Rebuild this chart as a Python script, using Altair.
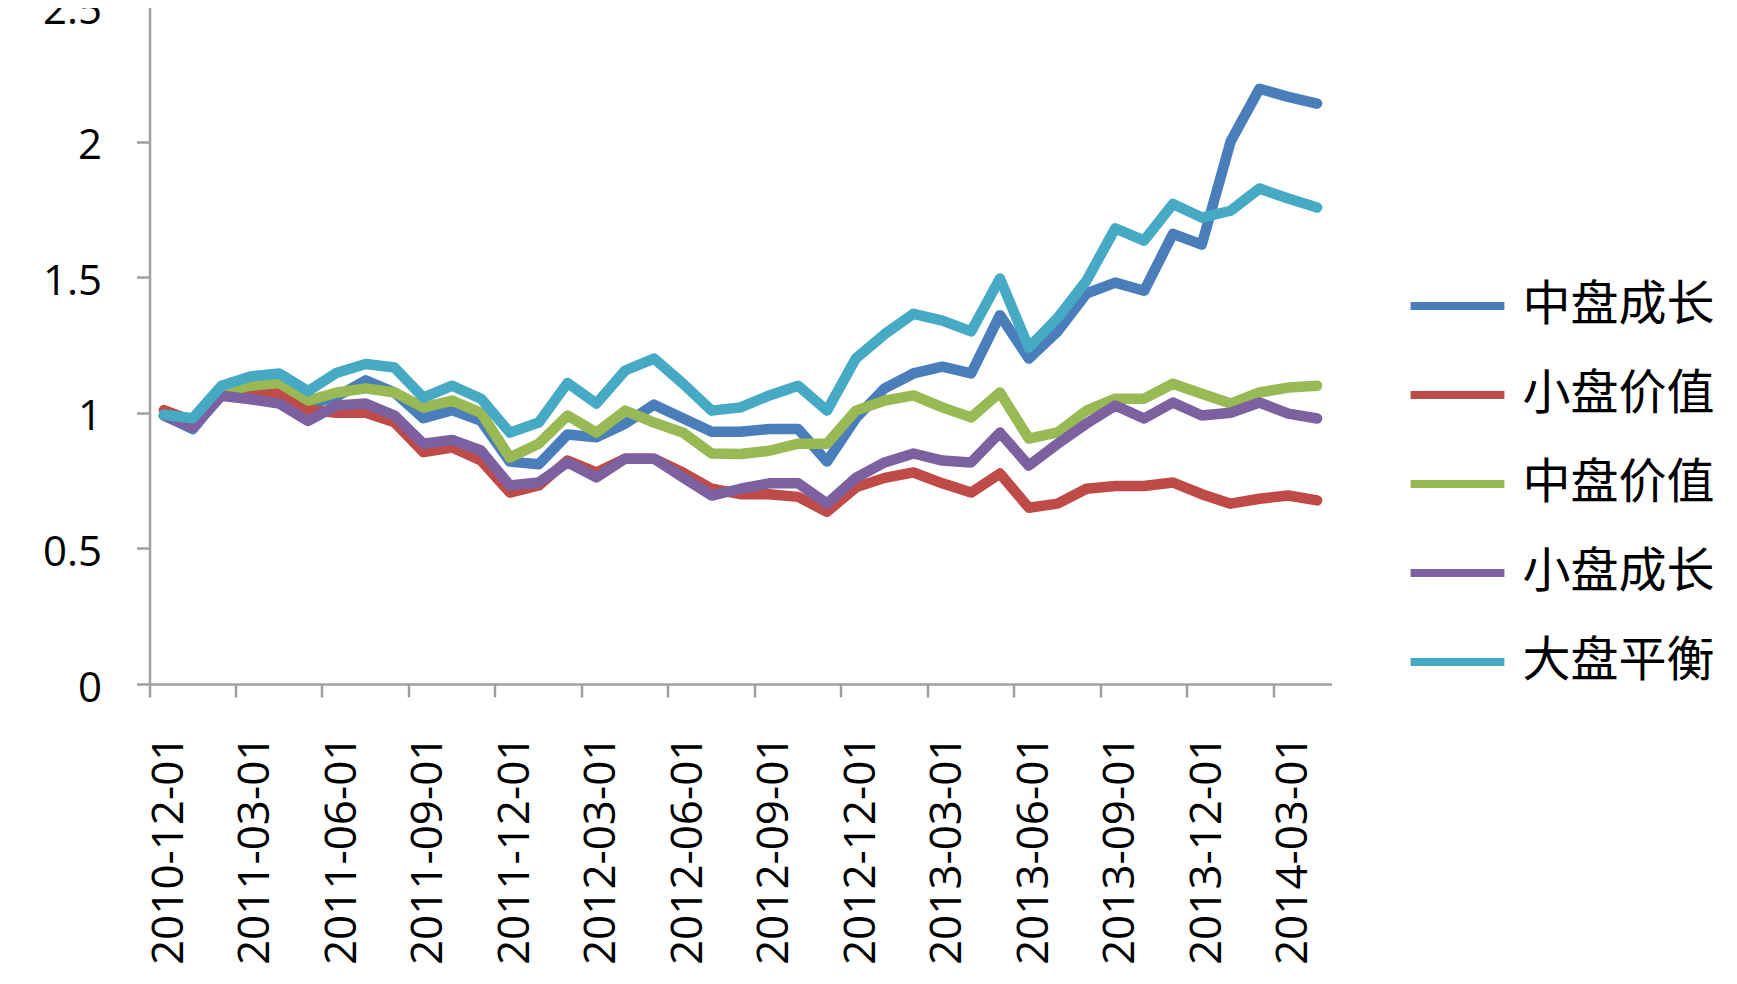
import altair as alt
import pandas as pd

months = list(pd.date_range("2010-12-01", periods=41, freq="MS").strftime("%Y-%m-%d"))
tick_labels = ["2010-12-01", "2011-03-01", "2011-06-01", "2011-09-01", "2011-12-01",
               "2012-03-01", "2012-06-01", "2012-09-01", "2012-12-01", "2013-03-01",
               "2013-06-01", "2013-09-01", "2013-12-01", "2014-03-01"]

names = ["中盘成长", "小盘价值", "中盘价值", "小盘成长", "大盘平衡"]
colors = ["#4A7EBB", "#BE4B48", "#98B954", "#7D60A0", "#46AAC5"]

mid_growth = [0.99, 0.94, 1.07, 1.08, 1.065, 1.03, 1.06, 1.12, 1.075, 0.98,
              1.01, 0.97, 0.82, 0.81, 0.92, 0.91, 0.96, 1.03, 0.98, 0.93,
              0.93, 0.94, 0.94, 0.82, 0.98, 1.09, 1.145, 1.17, 1.145, 1.36,
              1.20, 1.30, 1.44, 1.48, 1.45, 1.66, 1.62, 2.00, 2.195, 2.165, 2.14]
small_value = [1.01, 0.97, 1.07, 1.09, 1.07, 1.01, 1.00, 1.00, 0.965, 0.855,
               0.872, 0.824, 0.706, 0.732, 0.824, 0.78, 0.831, 0.831, 0.78, 0.72,
               0.70, 0.70, 0.69, 0.635, 0.725, 0.76, 0.78, 0.74, 0.706, 0.776,
               0.65, 0.665, 0.72, 0.73, 0.73, 0.743, 0.70, 0.665, 0.683, 0.695, 0.677]
mid_value = [0.99, 0.96, 1.075, 1.10, 1.11, 1.045, 1.075, 1.09, 1.075, 1.02,
             1.045, 1.00, 0.835, 0.886, 0.99, 0.927, 1.008, 0.964, 0.927, 0.85,
             0.848, 0.86, 0.886, 0.886, 1.008, 1.045, 1.064, 1.02, 0.983, 1.075,
             0.905, 0.928, 1.008, 1.052, 1.052, 1.107, 1.07, 1.034, 1.075, 1.093, 1.10]
small_growth = [0.99, 0.946, 1.063, 1.05, 1.034, 0.97, 1.027, 1.034, 0.99, 0.886,
                0.90, 0.861, 0.732, 0.743, 0.817, 0.762, 0.831, 0.831, 0.762, 0.695,
                0.72, 0.74, 0.74, 0.665, 0.76, 0.817, 0.85, 0.824, 0.817, 0.927,
                0.805, 0.886, 0.96, 1.027, 0.979, 1.038, 0.99, 1.00, 1.038, 0.997, 0.979]
large_balance = [0.993, 0.98, 1.10, 1.134, 1.145, 1.08, 1.148, 1.18, 1.167, 1.056,
                 1.10, 1.052, 0.927, 0.964, 1.11, 1.034, 1.156, 1.20, 1.108, 1.008,
                 1.02, 1.064, 1.10, 1.008, 1.20, 1.29, 1.365, 1.34, 1.30, 1.495,
                 1.24, 1.35, 1.487, 1.68, 1.635, 1.77, 1.72, 1.745, 1.827, 1.79, 1.757]

y_ticks = [0, 0.5, 1, 1.5, 2, 2.5]

series = [mid_growth, small_value, mid_value, small_growth, large_balance]
rows = []
for name, vals in zip(names, series):
    for m, v in zip(months, vals):
        rows.append({"date": m, "value": v, "series": name})
df = pd.DataFrame(rows)

axis_gray = "#A0A0A0"
font = "Open Sans"

chart = alt.Chart(df).mark_line(
    strokeWidth=10.5, strokeCap="round", strokeJoin="round"
).encode(
    x=alt.X("date:O", sort=months, bandPosition=0.5,
            scale=alt.Scale(type="band", paddingInner=0, paddingOuter=0),
            axis=alt.Axis(values=tick_labels, bandPosition=0, title=None,
                          labelAngle=270, labelAlign="right", labelBaseline="middle",
                          labelOffset=6, labelPadding=38, tickSize=13, labelLimit=400,
                          labelFontSize=44, labelFont=font, labelColor="black",
                          domainColor=axis_gray, tickColor=axis_gray,
                          domainWidth=2.5, tickWidth=2.5, grid=False)),
    y=alt.Y("value:Q", scale=alt.Scale(domain=[0, 2.5], nice=False, zero=True),
            axis=alt.Axis(values=y_ticks, format="~g", title=None,
                          tickSize=13, labelPadding=35, labelOffset=4,
                          labelFontSize=42, labelFont=font, labelColor="black",
                          domainColor=axis_gray, tickColor=axis_gray,
                          domainWidth=2.5, tickWidth=2.5, grid=False)),
    color=alt.Color("series:N", sort=names,
                    scale=alt.Scale(domain=names, range=colors),
                    legend=alt.Legend(title=None, orient="none", legendX=1257, legendY=249,
                                      symbolType="stroke", symbolSize=8800,
                                      symbolStrokeWidth=8, labelFontSize=48,
                                      labelFont="Noto Sans CJK SC", labelColor="black",
                                      rowPadding=14, labelOffset=14, labelLimit=400)),
).properties(
    width=1182, height=678,
    autosize=alt.AutoSizeParams(type="none"),
    padding={"left": 141.5, "top": -2, "right": 395, "bottom": 290},
).configure_view(strokeWidth=0)

chart.save("out.html", embed_options={"renderer": "svg", "actions": False})
